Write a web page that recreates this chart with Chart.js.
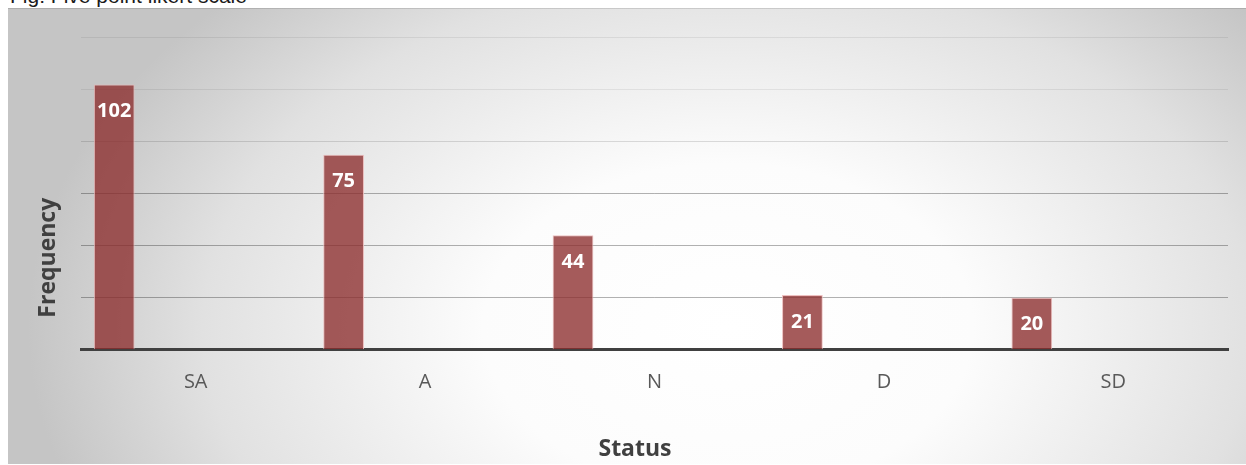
<!DOCTYPE html>
<html>
<head>
<meta charset="utf-8">
<script src="https://cdn.jsdelivr.net/npm/chart.js@4.4.1/dist/chart.umd.min.js"></script>
<style>
  html, body { margin: 0; padding: 0; background: #fff; width: 1246px; height: 465px; overflow: hidden; position: relative; }
  #fig { position: absolute; left: 10px; top: -15px; font: 21px/21px "Liberation Sans", Arial, sans-serif; color: #1a1a1a; white-space: nowrap; }
  #box { position: absolute; left: 8px; top: 8px; width: 1238px; height: 456px; }
</style>
</head>
<body>
<div id="fig">Fig: Five point likert scale</div>
<div id="box"><canvas id="c"></canvas></div>
<script>
// Likert responses
const categories = ['SA', 'A', 'N', 'D', 'SD'];
const frequency = [102, 75, 44, 21, 20];
// value axis (labels hidden, gridlines every 20)
const yTicks = [0, 20, 40, 60, 80, 100, 120];
const yTitle = 'Frequency';
const xTitle = 'Status';
// the workbook's series layout: five series slots per category, only the first one filled
const seriesSlots = 5;

const datasets = [{
  label: yTitle,
  data: frequency,
  backgroundColor: 'rgba(140, 45, 45, 0.78)',
  borderColor: 'rgba(235, 185, 185, 0.9)',
  borderWidth: 1,
  borderSkipped: 'start'
}];
for (let i = 1; i < seriesSlots; i++) {
  datasets.push({ label: '', data: categories.map(() => null), backgroundColor: 'transparent' });
}

const backdrop = {
  id: 'backdrop',
  beforeDraw(chart) {
    const { ctx, width, height } = chart;
    ctx.save();
    const cx = 720, cy = 320, rx = 700, ry = 470;
    ctx.translate(cx, cy);
    ctx.scale(1, ry / rx);
    const g = ctx.createRadialGradient(0, 0, 0, 0, 0, rx);
    g.addColorStop(0, '#ffffff');
    g.addColorStop(0.35, '#fcfcfc');
    g.addColorStop(0.75, '#e1e1e1');
    g.addColorStop(1, '#c5c5c5');
    ctx.fillStyle = g;
    ctx.fillRect(-cx - 10, -cy * rx / ry - 10, width + 20, height * rx / ry + 20);
    ctx.restore();
    ctx.save();
    ctx.strokeStyle = 'rgba(0,0,0,0.12)';
    ctx.lineWidth = 1;
    ctx.beginPath();
    ctx.moveTo(0, 0.5);
    ctx.lineTo(width, 0.5);
    ctx.stroke();
    ctx.restore();
  }
};

const valueLabels = {
  id: 'valueLabels',
  afterDatasetsDraw(chart) {
    const { ctx } = chart;
    const meta = chart.getDatasetMeta(0);
    ctx.save();
    ctx.fillStyle = '#ffffff';
    ctx.font = 'bold 20px "Open Sans", sans-serif';
    ctx.textAlign = 'center';
    ctx.textBaseline = 'middle';
    meta.data.forEach((bar, i) => {
      ctx.fillText(String(frequency[i]), bar.x, bar.y + 27);
    });
    ctx.restore();
  }
};

const axisTitles = {
  id: 'axisTitles',
  afterDraw(chart) {
    const { ctx, chartArea } = chart;
    ctx.save();
    ctx.fillStyle = '#404040';
    ctx.font = 'bold 23px "Open Sans", sans-serif';
    ctx.textAlign = 'center';
    ctx.textBaseline = 'middle';
    ctx.fillText(xTitle, chartArea.left + 554, chartArea.bottom + 100);
    ctx.translate(chartArea.left - 33, chartArea.bottom - 92);
    ctx.rotate(-Math.PI / 2);
    ctx.fillText(yTitle, 0, 0);
    ctx.restore();
  }
};

new Chart(document.getElementById('c'), {
  type: 'bar',
  data: { labels: categories, datasets },
  plugins: [backdrop, valueLabels, axisTitles],
  options: {
    responsive: true,
    maintainAspectRatio: false,
    animation: false,
    events: [],
    categoryPercentage: 0.888,
    barPercentage: 1,
    layout: { padding: { top: 29.7, right: 18, left: 0, bottom: 0 } },
    plugins: { legend: { display: false }, tooltip: { enabled: false } },
    scales: {
      x: {
        grid: { display: false, drawTicks: false },
        border: { display: true, color: '#404040', width: 3 },
        ticks: {
          color: '#595959',
          font: { family: '"Open Sans", sans-serif', size: 20 },
          padding: 21,
          maxRotation: 0,
          autoSkip: false
        },
        afterFit(scale) { scale.height = 114.3; }
      },
      y: {
        min: yTicks[0],
        max: yTicks[yTicks.length - 1],
        afterBuildTicks(scale) { scale.ticks = yTicks.map(v => ({ value: v })); },
        ticks: { display: false },
        border: { display: false },
        grid: {
          drawTicks: false,
          lineWidth: 1,
          color(ctx) {
            const v = ctx.tick ? ctx.tick.value : 0;
            if (v >= 100) return 'rgba(0,0,0,0.07)';
            if (v >= 80) return 'rgba(0,0,0,0.13)';
            return 'rgba(0,0,0,0.3)';
          }
        },
        afterFit(scale) { scale.width = 73; }
      }
    }
  }
});
</script>
</body>
</html>
